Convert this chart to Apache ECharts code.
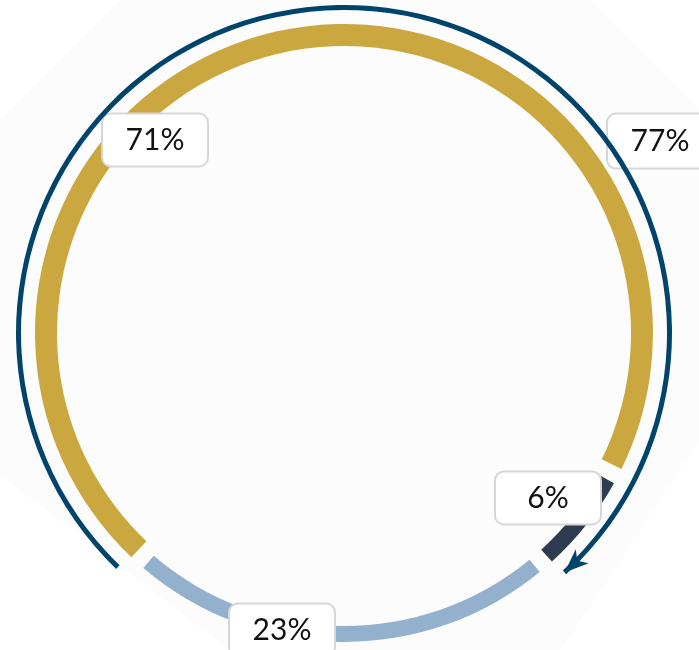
<!DOCTYPE html>
<html><head><meta charset="utf-8">
<script src="https://cdn.jsdelivr.net/npm/echarts@6/dist/echarts.min.js"></script>
<style>html,body{margin:0;padding:0;background:#fff}#c{width:699px;height:650px}</style>
</head><body><div id="c"></div>
<script>
// ---- data ----
const categories = ['Gold', 'Navy', 'Light blue'];
const shares = [71, 6, 23];
const arcValue = 77;

// ---- layout / style ----
const sliceColors = ['#cba83f', '#2f3b51', '#93b1cd'];
const arcColor = '#00446b';
const cx = 344, cy = 333;
const labelPos = [[155, 140], [548, 498], [282, 630]];

const boxStyle = {
  color: '#111', fontFamily: 'Lato', fontSize: 30, lineHeight: 30,
  backgroundColor: '#ffffff', borderColor: '#d6d6d6', borderWidth: 2, borderRadius: 8,
  padding: [11, 23, 10, 23], width: 58, align: 'center', overflow: 'none'
};

function pieData(keep) {
  return categories.map((name, i) => ({
    name, value: shares[i],
    itemStyle: { color: keep.includes(i) ? sliceColors[i] : 'rgba(0,0,0,0)' },
    label: { show: keep.includes(i) }
  }));
}

const chart = echarts.init(document.getElementById('c'), null, { renderer: 'canvas' });
chart.setOption({
  backgroundColor: '#ffffff',
  animation: false,
  graphic: [{
    type: 'polygon', silent: true, z: -10,
    shape: { points: [[0, 120], [120, 0], [590, 0], [699, 110], [699, 440], [560, 650], [230, 650], [0, 475]] },
    style: { fill: '#fcfcfc' }
  }],
  series: [
    {
      type: 'pie', center: [cx, cy], radius: [287, 309], startAngle: 228, padAngle: 3,
      silent: true, avoidLabelOverlap: false, emphasis: { disabled: true },
      label: Object.assign({ position: 'inside', formatter: '{c}%', verticalAlign: 'middle' }, boxStyle),
      labelLine: { show: false },
      labelLayout: p => ({ x: labelPos[p.dataIndex][0], y: labelPos[p.dataIndex][1] }),
      data: pieData([0])
    },
    {
      type: 'pie', center: [cx, cy], radius: [293, 309], startAngle: 228, padAngle: 3,
      silent: true, avoidLabelOverlap: false, emphasis: { disabled: true },
      label: Object.assign({ position: 'inside', formatter: '{c}%', verticalAlign: 'middle' }, boxStyle),
      labelLine: { show: false },
      labelLayout: p => ({ x: labelPos[p.dataIndex][0], y: labelPos[p.dataIndex][1] }),
      data: pieData([1, 2])
    },
    {
      type: 'gauge', center: [cx, cy], radius: 328, startAngle: 226, endAngle: -129,
      min: 0, max: 100, silent: true,
      progress: { show: true, width: 5, itemStyle: { color: arcColor } },
      axisLine: { show: false }, splitLine: { show: false }, axisTick: { show: false }, axisLabel: { show: false },
      pointer: {
        show: true, icon: 'path://M0,0 L18,8 L0,16 L5,8 Z', width: 24, length: 19,
        offsetCenter: [-12, -325.5 + 9.5], itemStyle: { color: arcColor }
      },
      anchor: { show: false }, title: { show: false },
      detail: Object.assign({
        show: true, valueAnimation: false, formatter: '{value}%', fontWeight: 'normal',
        height: 32, offsetCenter: [316, -192]
      }, boxStyle),
      data: [{ value: arcValue, name: '' }]
    }
  ]
});
</script>
</body></html>
